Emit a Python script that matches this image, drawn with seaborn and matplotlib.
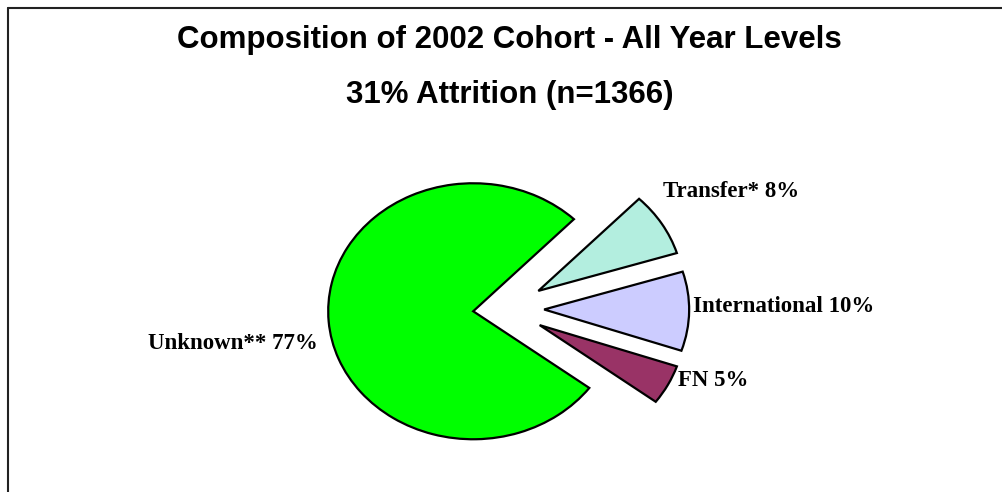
import matplotlib
matplotlib.use("Agg")
import matplotlib.pyplot as plt
from matplotlib.lines import Line2D
import seaborn as sns

# Data (order matches drawing order, counter-clockwise from the top-right notch)
categories = ["Unknown**", "FN", "International", "Transfer*"]
shares = [77, 5, 10, 8]
label_text = ["Unknown** 77%", "FN 5%", "International 10%", "Transfer* 8%"]
slice_colors = ["#00FF00", "#993366", "#CCCCFF", "#B3EEDF"]
explode = [0.22, 0.27, 0.27, 0.27]

# label placement (data units of the pie axes) and alignment
label_pos = [(-1.29, -0.27), (1.19, -0.56), (1.30, 0.02), (1.09, 0.92)]
label_ha = ["right", "left", "left", "left"]

sns.set_theme(style="white")
plt.rcParams["font.family"] = ["Liberation Sans", "DejaVu Sans"]
plt.rcParams["text.color"] = "black"

fig = plt.figure(figsize=(10.03, 4.92), dpi=100)
ax = fig.add_axes([0, 0, 1, 1])

wedges, texts = ax.pie(
    shares,
    labels=label_text,
    colors=slice_colors,
    explode=explode,
    startangle=46,
    counterclock=True,
    wedgeprops=dict(edgecolor="black", linewidth=1.6),
    textprops=dict(family="Liberation Serif", fontweight="bold", fontsize=16.5, color="black"),
)

for t, pos, ha in zip(texts, label_pos, label_ha):
    t.set_position(pos)
    t.set_ha(ha)
    t.set_va("center")

# elliptical pie like the original, pixel-mapped axes
ax.set_aspect("auto")
ax.set_xlim(-505 / 145, (1003 - 505) / 145)
ax.set_ylim(-(492 - 309) / 128, 309 / 128)
ax.axis("off")

# title
fig.text(0.508, 1 - 40 / 492, "Composition of 2002 Cohort - All Year Levels",
         ha="center", va="center", fontsize=22.5, fontweight="bold", color="black")
fig.text(0.508, 1 - 95 / 492, "31% Attrition (n=1366)",
         ha="center", va="center", fontsize=22.5, fontweight="bold", color="black")

# partial frame (top and left edges only)
fig.add_artist(Line2D([8 / 1003, 1], [1 - 7.5 / 492, 1 - 7.5 / 492],
                      transform=fig.transFigure, color="#222222", lw=1.5))
fig.add_artist(Line2D([8 / 1003, 8 / 1003], [0, 1 - 7.5 / 492],
                      transform=fig.transFigure, color="#222222", lw=1.5))

fig.savefig("out.png", dpi=100)
